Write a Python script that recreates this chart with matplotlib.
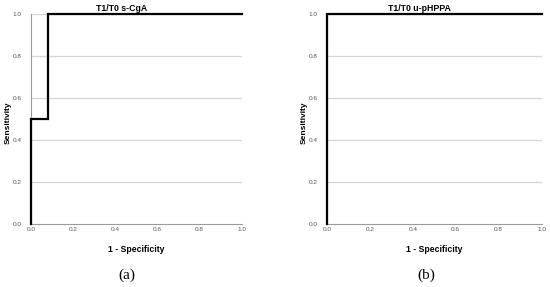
import matplotlib
matplotlib.use('Agg')
import matplotlib.pyplot as plt

# ROC curves
titles = ['T1/T0 s-CgA', 'T1/T0 u-pHPPA']
captions = ['(a)', '(b)']
fpr_a = [0.0, 0.0, 0.083, 0.083, 1.0]
tpr_a = [0.0, 0.5, 0.5, 1.0, 1.0]
fpr_b = [0.0, 0.0, 1.0]
tpr_b = [0.0, 1.0, 1.0]
ticks = [0.0, 0.2, 0.4, 0.6, 0.8, 1.0]
tick_labels = ['0.0', '0.2', '0.4', '0.6', '0.8', '1.0']

plt.rcParams['font.family'] = ['Liberation Sans', 'DejaVu Sans']

fig = plt.figure(figsize=(5.5, 2.87), dpi=100)
W, H = 550.0, 287.0
boxes = [(31, 241.5), (327, 541.5)]
cap_x = [127, 426]
curves = [(fpr_a, tpr_a), (fpr_b, tpr_b)]

for i in range(2):
    x0, x1 = boxes[i]
    ax = fig.add_axes([x0 / W, 1 - 224 / H, (x1 - x0) / W, 210 / H])
    ax.set_xlim(0, 1)
    ax.set_ylim(0, 1)
    for t in ticks[1:]:
        ax.axhline(t, color='#d6d6d6', lw=0.9, zorder=1)
    fpr, tpr = curves[i]
    ax.plot(fpr, tpr, color='black', lw=1.6, clip_on=False, zorder=3,
            solid_joinstyle='miter')
    for s in ['top', 'right']:
        ax.spines[s].set_visible(False)
    for s in ['left', 'bottom']:
        ax.spines[s].set_color('#9a9a9a')
        ax.spines[s].set_linewidth(0.8)
    ax.set_xticks(ticks)
    ax.set_xticklabels(tick_labels)
    ax.set_yticks(ticks)
    ax.set_yticklabels(tick_labels)
    ax.tick_params(length=0, labelsize=4.6, labelcolor='#555555')
    ax.tick_params(axis='y', pad=7)
    ax.tick_params(axis='x', pad=2.5)
    ax.set_title(titles[i], fontsize=6.3, fontweight='bold', x=0.43, pad=2.5)
    ax.set_xlabel('1 - Specificity', fontsize=6.2, fontweight='bold', labelpad=9)
    ax.set_ylabel('Sensitivity', fontsize=6, fontweight='bold')
    ax.yaxis.set_label_coords(-19.5 / (x1 - x0), 0.48)
    fig.text(cap_x[i] / W, 1 - 275 / H, captions[i], ha='center', va='center',
             fontsize=11, family=['Liberation Serif', 'DejaVu Serif'])

fig.savefig('out.png', dpi=100)
